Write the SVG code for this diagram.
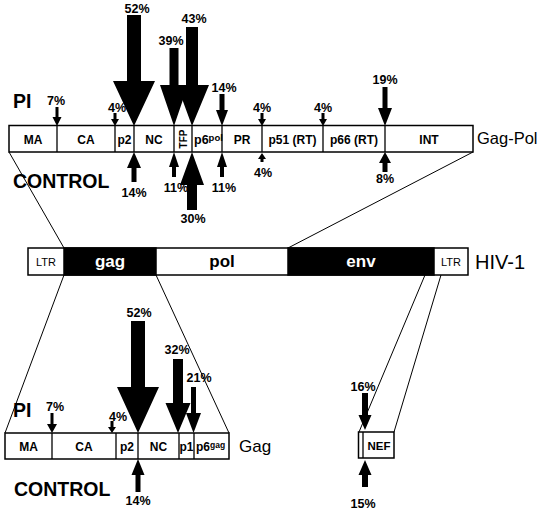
<svg xmlns="http://www.w3.org/2000/svg" width="546" height="513" viewBox="0 0 546 513">
<style>
text{font-family:"Liberation Sans",Arial,sans-serif;fill:#000}
.b{font-weight:bold}
.seg{font-weight:bold;font-size:12px;text-anchor:middle}
.pct{font-weight:bold;font-size:12.5px;text-anchor:middle}
.big{font-weight:bold;font-size:19.5px}
.nm{font-size:16.5px}
.box{fill:#fff;stroke:#000;stroke-width:1.5}
.blk{fill:#000;stroke:#000;stroke-width:1.5}
.div{stroke:#000;stroke-width:1.3}
.con line{stroke:#000;stroke-width:1}
.arr{fill:#000}
</style>
<rect width="546" height="513" fill="#fff"/>

<g id="connectors" class="con">
<line x1="9" y1="152" x2="64" y2="248"/>
<line x1="473" y1="152" x2="288" y2="248"/>
<line x1="64" y1="275" x2="5" y2="433"/>
<line x1="156" y1="275" x2="229" y2="433"/>
<line x1="425" y1="275" x2="359" y2="432"/>
<line x1="441" y1="275" x2="394" y2="432"/>
</g>

<g id="gagpol">
<rect class="box" x="9" y="125.5" width="464" height="26.5"/>
<g class="div">
<line x1="57" y1="125.5" x2="57" y2="152"/>
<line x1="115" y1="125.5" x2="115" y2="152"/>
<line x1="134" y1="125.5" x2="134" y2="152"/>
<line x1="174" y1="125.5" x2="174" y2="152"/>
<line x1="192" y1="125.5" x2="192" y2="152"/>
<line x1="222" y1="125.5" x2="222" y2="152"/>
<line x1="262" y1="125.5" x2="262" y2="152"/>
<line x1="323" y1="125.5" x2="323" y2="152"/>
<line x1="385" y1="125.5" x2="385" y2="152"/>
</g>
<text class="seg" x="33" y="144">MA</text>
<text class="seg" x="86" y="144">CA</text>
<text class="seg" x="124.5" y="144">p2</text>
<text class="seg" x="154" y="144">NC</text>
<text class="seg" transform="translate(186.5,139) rotate(-90)" style="font-size:10px">TFP</text>
<text class="b" x="194" y="144" font-size="12.5">p6<tspan font-size="9.5" dy="-3">pol</tspan></text>
<text class="seg" x="242" y="144">PR</text>
<text class="seg" x="292.5" y="144">p51 (RT)</text>
<text class="seg" x="354" y="144">p66 (RT)</text>
<text class="seg" x="429" y="144">INT</text>
<text class="nm" x="477" y="144">Gag-Pol</text>
</g>

<g id="labels-top">
<text class="big" x="13" y="108">PI</text>
<text class="big" x="13" y="188">CONTROL</text>
<text class="big" x="13" y="417">PI</text>
<text class="big" x="14" y="496">CONTROL</text>
</g>

<g id="pi-arrows-gagpol">
<polygon class="arr" points="55.5,107 58.5,107 58.5,117 61.5,117 57,126 52.5,117 55.5,117"/>
<text class="pct" x="56" y="105">7%</text>
<polygon class="arr" points="113.5,113 116.5,113 116.5,119 119,119 115,126 111,119 113.5,119"/>
<text class="pct" x="117" y="112">4%</text>
<polygon class="arr" points="127,15 141,15 141,81 155,81 134,126 113,81 127,81"/>
<text class="pct" x="137" y="13">52%</text>
<polygon class="arr" points="169.5,48 178.5,48 178.5,85 188,85 174,126 160,85 169.5,85"/>
<text class="pct" x="171" y="45">39%</text>
<polygon class="arr" points="186,27 198,27 198,85 209,85 192,126 177,85 186,85"/>
<text class="pct" x="194" y="23">43%</text>
<polygon class="arr" points="219.5,94 224.5,94 224.5,110 228,110 222,126 216,110 219.5,110"/>
<text class="pct" x="224" y="92">14%</text>
<polygon class="arr" points="260.5,113 263.5,113 263.5,119 266,119 262,126 258,119 260.5,119"/>
<text class="pct" x="262" y="112">4%</text>
<polygon class="arr" points="321.5,113 324.5,113 324.5,119 327,119 323,126 319,119 321.5,119"/>
<text class="pct" x="323" y="112">4%</text>
<polygon class="arr" points="382.5,87 387.5,87 387.5,108 392,108 385,126 378,108 382.5,108"/>
<text class="pct" x="385" y="84">19%</text>
</g>

<g id="control-arrows-gagpol">
<polygon class="arr" points="134,152 141,168 136.5,168 136.5,182 131.5,182 131.5,168 127,168"/>
<text class="pct" x="134" y="197">14%</text>
<polygon class="arr" points="174,152 179,167 176,167 176,177 172,177 172,167 169,167"/>
<text class="pct" x="176" y="192">11%</text>
<polygon class="arr" points="192,152 204,185 197,185 197,210 187,210 187,185 180,185"/>
<text class="pct" x="193" y="223">30%</text>
<polygon class="arr" points="222,152 227,167 224,167 224,177 220,177 220,167 217,167"/>
<text class="pct" x="224" y="192">11%</text>
<polygon class="arr" points="262,153 266,159 263.5,159 263.5,162 260.5,162 260.5,159 258,159"/>
<text class="pct" x="263" y="177">4%</text>
<polygon class="arr" points="385,152 391,163 387.5,163 387.5,172 382.5,172 382.5,163 379,163"/>
<text class="pct" x="385" y="183">8%</text>
</g>

<g id="hiv1">
<rect class="box" x="28" y="248" width="440" height="27"/>
<rect class="blk" x="64" y="248" width="92" height="27"/>
<rect class="blk" x="288" y="248" width="146" height="27"/>
<text x="46" y="266" font-size="11" text-anchor="middle">LTR</text>
<text class="b" x="110" y="267" font-size="17" text-anchor="middle" style="fill:#fff">gag</text>
<text class="b" x="222" y="267" font-size="17" text-anchor="middle">pol</text>
<text class="b" x="361" y="267" font-size="17" text-anchor="middle" style="fill:#fff">env</text>
<text x="451" y="266" font-size="11" text-anchor="middle">LTR</text>
<text x="475" y="269" font-size="20">HIV-1</text>
</g>

<g id="gag">
<rect class="box" x="5" y="433" width="224" height="26"/>
<g class="div">
<line x1="52" y1="433" x2="52" y2="459"/>
<line x1="116" y1="433" x2="116" y2="459"/>
<line x1="138" y1="433" x2="138" y2="459"/>
<line x1="179" y1="433" x2="179" y2="459"/>
<line x1="194" y1="433" x2="194" y2="459"/>
</g>
<text class="seg" x="28.5" y="451">MA</text>
<text class="seg" x="84" y="451">CA</text>
<text class="seg" x="127" y="451">p2</text>
<text class="seg" x="158.5" y="451">NC</text>
<text class="seg" x="186.5" y="451">p1</text>
<text class="b" x="196" y="451" font-size="12">p6<tspan font-size="8.5" dy="-3">gag</tspan></text>
<text x="239" y="452" font-size="17">Gag</text>
</g>

<g id="pi-arrows-gag">
<polygon class="arr" points="50.5,413 53.5,413 53.5,424 57,424 52,433 47,424 50.5,424"/>
<text class="pct" x="55" y="411">7%</text>
<polygon class="arr" points="110.5,421 113.5,421 113.5,427 116,427 112,433 108,427 110.5,427"/>
<text class="pct" x="118" y="421">4%</text>
<polygon class="arr" points="131,321 145,321 145,387 159,387 138,433 117,387 131,387"/>
<text class="pct" x="139" y="317">52%</text>
<polygon class="arr" points="173,359 183,359 183,403 190.5,403 178,433 165.5,403 173,403"/>
<text class="pct" x="177" y="354">32%</text>
<polygon class="arr" points="191,387 196,387 196,413 201,413 193.5,433 186,413 191,413"/>
<text class="pct" x="199" y="382">21%</text>
</g>

<g id="control-arrows-gag">
<polygon class="arr" points="138,459 144.5,475 140.5,475 140.5,492 135.5,492 135.5,475 131.5,475"/>
<text class="pct" x="138" y="505">14%</text>
</g>

<g id="nef">
<rect class="box" x="358.5" y="432" width="35.5" height="26"/>
<line class="div" x1="363" y1="432" x2="363" y2="458"/>
<text class="b" x="379" y="450" font-size="11.5" text-anchor="middle">NEF</text>
<polygon class="arr" points="362,393 368,393 368,415 371.5,415 365,430 358.5,415 362,415"/>
<text class="pct" x="363" y="391">16%</text>
<polygon class="arr" points="365,460 371.5,475 368,475 368,487 362,487 362,475 358.5,475"/>
<text class="pct" x="363" y="508">15%</text>
</g>
</svg>
